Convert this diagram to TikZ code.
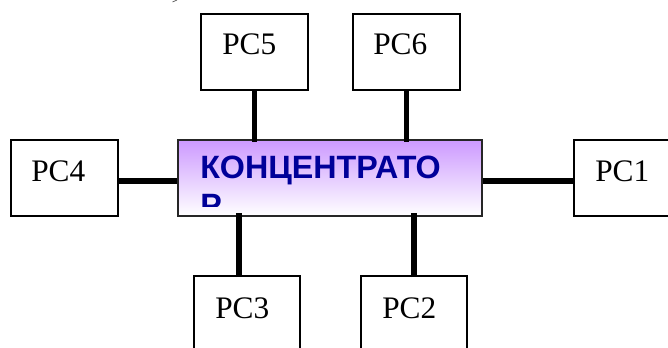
\documentclass[tikz,border=0pt]{standalone}
\usepackage{fontspec}
\setmainfont{Liberation Serif}
\newfontfamily\hubfont{Liberation Sans}
\definecolor{hubtop}{HTML}{CC99FF}
\definecolor{hubtext}{HTML}{000099}
\tikzset{
  pcbox/.style={draw=black,line width=1.5pt,fill=white,inner sep=0pt,minimum width=80pt,minimum height=57pt,anchor=north west},
  pcboxlow/.style={pcbox,minimum width=79.5pt},
  pctext/.style={inner sep=0pt,anchor=base west,font=\fontsize{23.5}{27}\selectfont,text=black},
  hubbox/.style={draw=black!85,line width=1.5pt,inner sep=0pt,minimum width=228pt,minimum height=57pt,anchor=north west,top color=hubtop,bottom color=white,middle color=hubtop!50},
  hubtxt/.style={inner sep=0pt,anchor=north west,align=left,text=hubtext,font=\hubfont\bfseries\fontsize{24.2}{28.6}\selectfont},
  link/.style={draw=black,line width=4pt}
}
\begin{document}
\begin{tikzpicture}[x=0.75pt,y=-0.75pt]
\useasboundingbox (0,0) rectangle (668,347);
\clip (0,0) rectangle (668,347);
\draw[line width=0.6pt,black!60] (177,0) -- (172.5,2);
\node[hubbox] (hub) at (177.2,138.8) {};
\begin{scope}
\clip (178,139) rectangle (482,206);
\node[hubtxt] (hubt) at (200,155.5) {КОНЦЕНТРАТО\\Р};
\end{scope}
\node[pcbox] (pc5) at (200,13) {};
\node[pcbox] (pc6) at (352,13) {};
\node[pcbox] (pc4) at (10,139) {};
\node[pcbox] (pc1) at (573,139) {};
\node[pcboxlow] (pc3) at (192.6,275.2) {};
\node[pcboxlow] (pc2) at (360,275.2) {};
\node[pctext] (pc5t) at (222,54) {PC5};
\node[pctext] (pc6t) at (373,54) {PC6};
\node[pctext] (pc4t) at (31,181) {PC4};
\node[pctext] (pc1t) at (595,181) {PC1};
\node[pctext] (pc3t) at (215,318) {PC3};
\node[pctext] (pc2t) at (382,318) {PC2};
\draw[link] (pc5.south) -- ([yshift=-2.5pt]pc5.south |- hub.north);
\draw[link] (pc6.south) -- ([yshift=-2.5pt]pc6.south |- hub.north);
\draw[link] ([yshift=-2.25pt]pc4.east) -- ([yshift=-2.25pt]pc4.east -| hub.west);
\draw[link] ([yshift=-2.25pt]pc1.west -| hub.east) -- ([yshift=-2.25pt]pc1.west);
\draw[link] ([xshift=-5.6pt,yshift=-1.5pt]pc3.north) -- ([xshift=-5.6pt,yshift=3pt]pc3.north |- hub.south);
\draw[link] ([yshift=-1.5pt]pc2.north) -- ([yshift=3pt]pc2.north |- hub.south);
\end{tikzpicture}
\end{document}
